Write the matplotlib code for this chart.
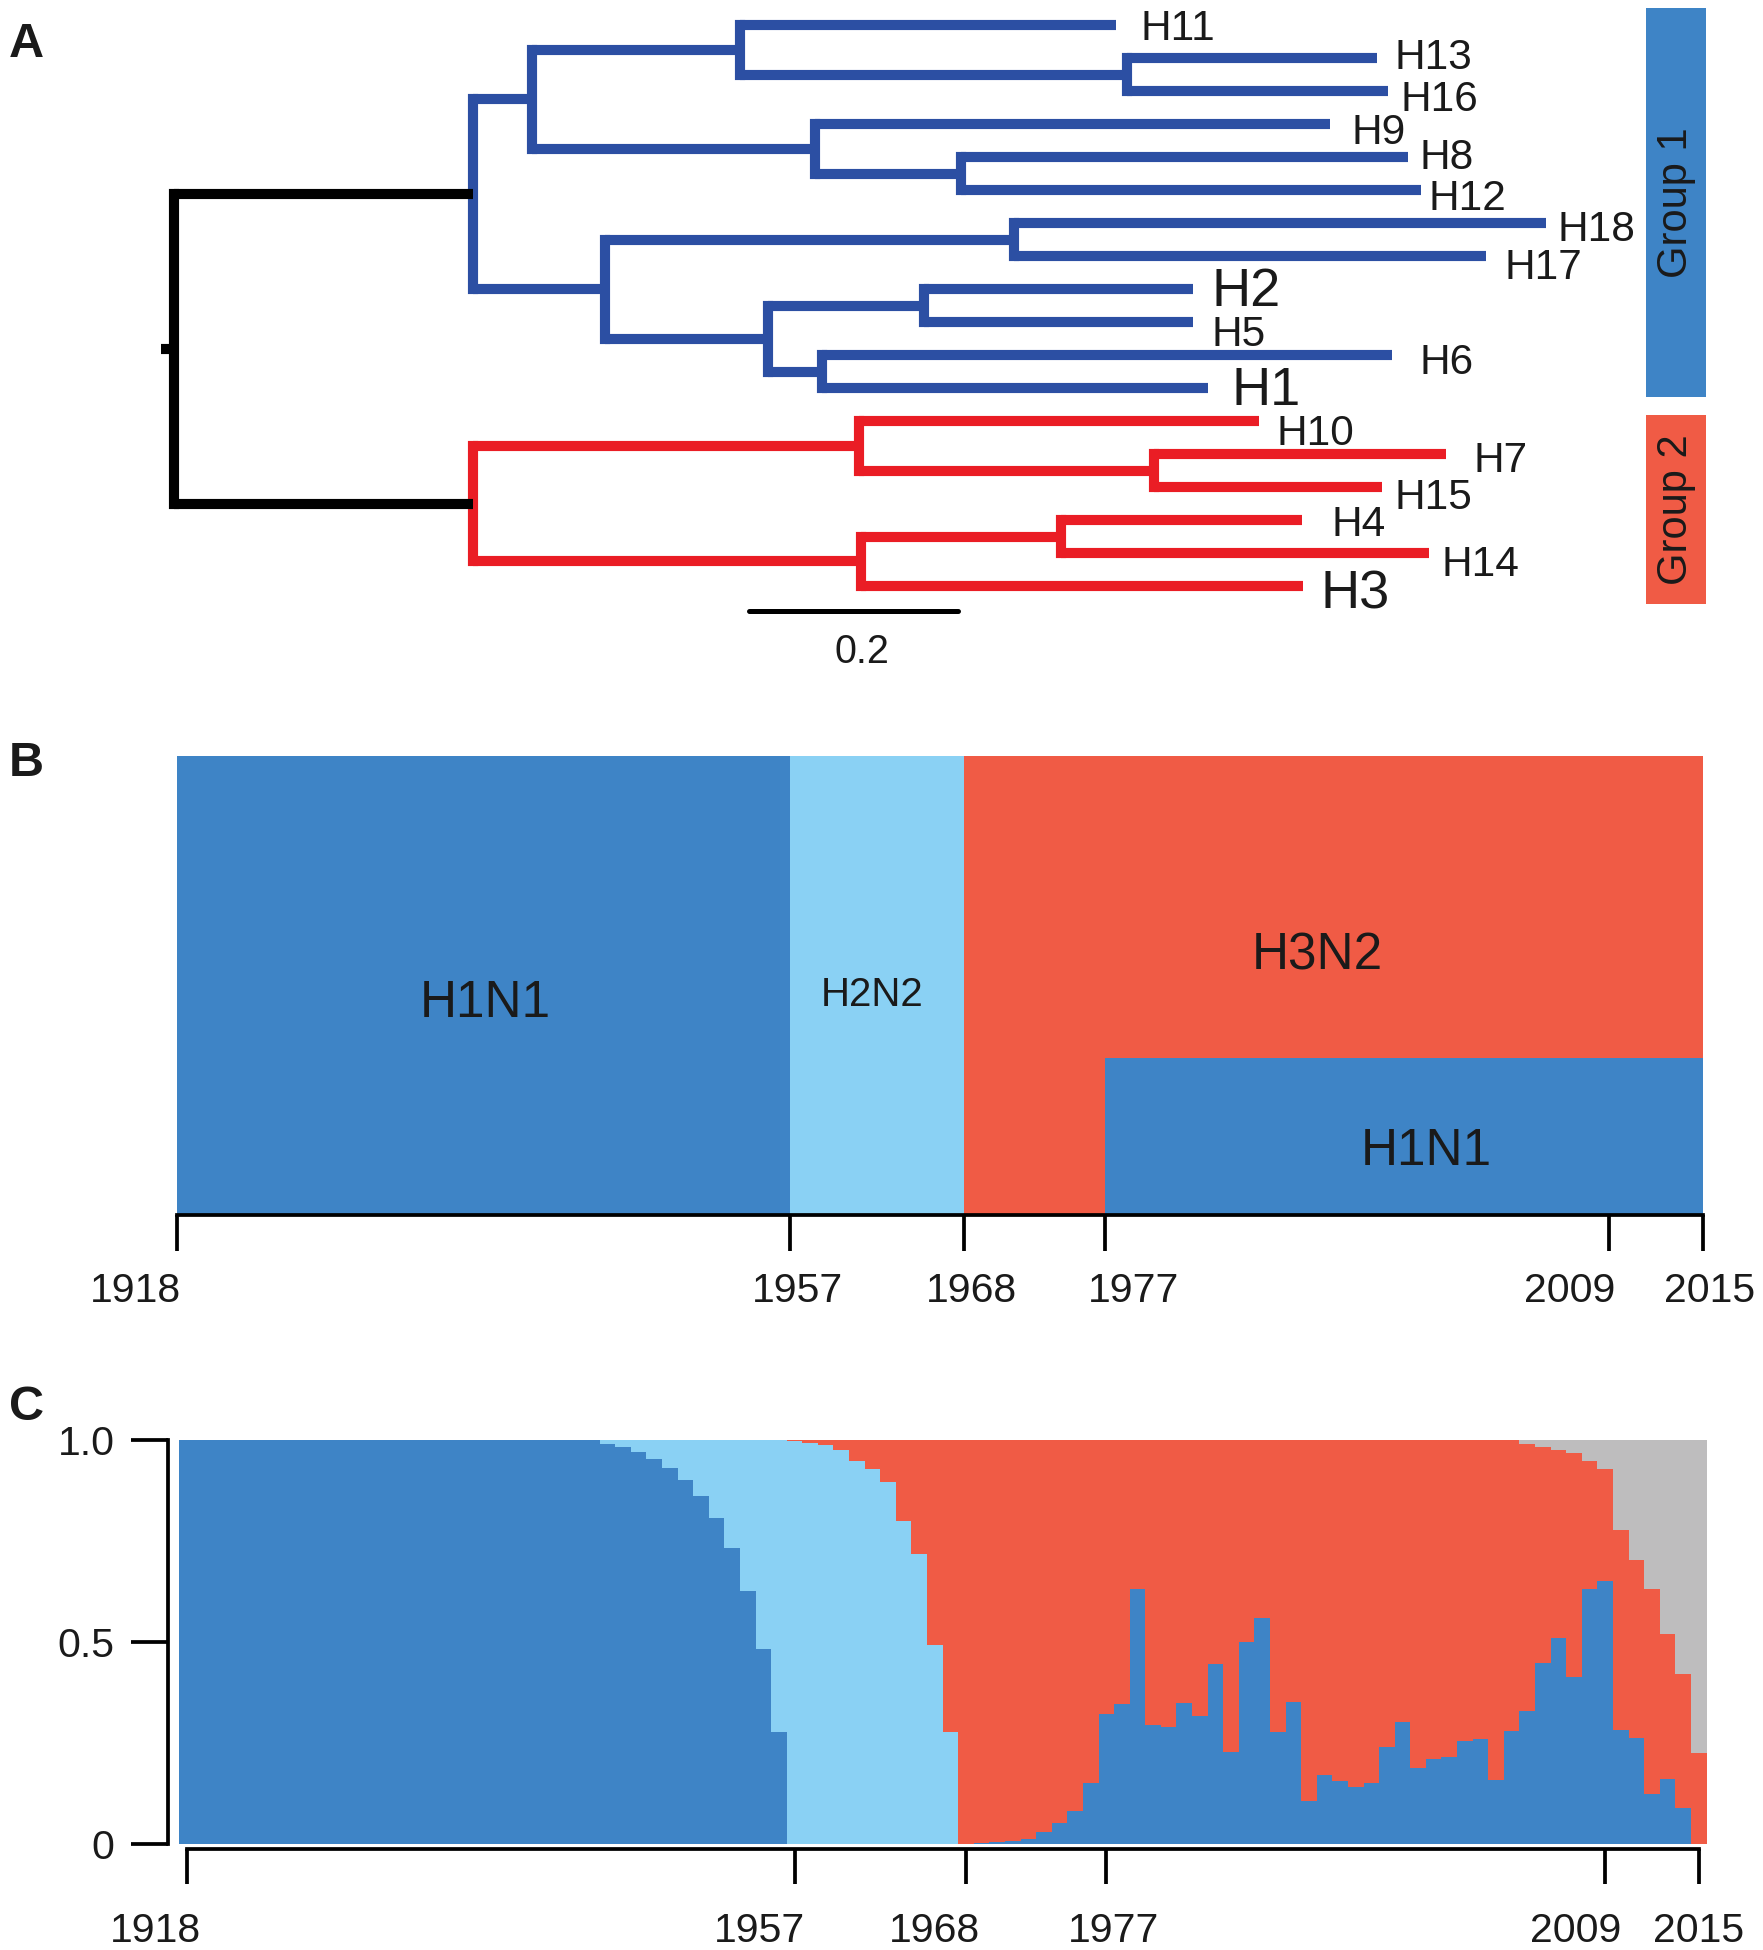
import numpy as np
import matplotlib
matplotlib.use("Agg")
import matplotlib.pyplot as plt
from matplotlib.patches import Rectangle
from matplotlib.transforms import blended_transform_factory

plt.rcParams['font.family'] = ['Liberation Sans', 'DejaVu Sans']

# ---------------- data ----------------
# A: HA subtype tree, depths in substitutions/site from the root
tip_names = ['H11', 'H13', 'H16', 'H9', 'H8', 'H12', 'H18', 'H17', 'H2',
             'H5', 'H6', 'H1', 'H10', 'H7', 'H15', 'H4', 'H14', 'H3']
tip_depth = [0.902, 1.152, 1.163, 1.107, 1.182, 1.194, 1.314, 1.257, 0.976,
             0.976, 1.167, 0.990, 1.039, 1.218, 1.157, 1.080, 1.202, 1.081]
# internal nodes (children listed before their parents)
node_names = ['n13', 'n11', 'n8', 'n9', 'nA', 'n18', 'n2', 'n1', 'nD', 'nC', 'G1',
              'n7', 'n10', 'n4', 'n3', 'G2', 'root']
node_children = [['H13', 'H16'], ['H11', 'n13'], ['H8', 'H12'], ['H9', 'n8'],
                 ['n11', 'n9'], ['H18', 'H17'], ['H2', 'H5'], ['H6', 'H1'],
                 ['n2', 'n1'], ['n18', 'nD'], ['nA', 'nC'],
                 ['H7', 'H15'], ['H10', 'n7'], ['H4', 'H14'], ['n4', 'H3'],
                 ['n10', 'n3'], ['G1', 'G2']]
node_depth = [0.913, 0.542, 0.754, 0.614, 0.343, 0.805, 0.718, 0.621, 0.569, 0.413, 0.286,
              0.939, 0.656, 0.850, 0.658, 0.286, 0.0]
human_tips = ['H1', 'H2', 'H3']
group_names = ['Group 1', 'Group 2']
group_root = ['G1', 'G2']
group_first = ['H11', 'H10']
group_last = ['H1', 'H3']
scale_bar = 0.2

# B: circulating subtypes
b_subtype = ['H1N1', 'H2N2', 'H3N2', 'H1N1']
b_start = [1918, 1957, 1968, 1977]
b_end = [1957, 1968, 2015, 2015]
b_share = [1.0, 1.0, 1.0, 0.34]
year_ticks = [1918, 1957, 1968, 1977, 2009, 2015]

# C: yearly share of each subtype
years = list(range(1918, 2016))
h1n1 = [1.0, 1.0, 1.0, 1.0, 1.0, 1.0, 1.0, 1.0, 1.0, 1.0,
        1.0, 1.0, 1.0, 1.0, 1.0, 1.0, 1.0, 1.0, 1.0, 1.0,
        1.0, 1.0, 1.0, 1.0, 1.0, 1.0, 1.0, 0.991, 0.983, 0.971,
        0.952, 0.931, 0.902, 0.862, 0.807, 0.733, 0.627, 0.483, 0.278, 0.0,
        0.0, 0.0, 0.0, 0.0, 0.0, 0.0, 0.0, 0.0, 0.0, 0.0,
        0.0, 0.002, 0.004, 0.008, 0.013, 0.029, 0.053, 0.082, 0.150, 0.323,
        0.346, 0.631, 0.295, 0.289, 0.348, 0.318, 0.445, 0.228, 0.500, 0.559,
        0.276, 0.352, 0.106, 0.170, 0.157, 0.141, 0.152, 0.239, 0.303, 0.188,
        0.211, 0.215, 0.256, 0.260, 0.158, 0.280, 0.330, 0.448, 0.510, 0.414,
        0.631, 0.651, 0.283, 0.262, 0.125, 0.161, 0.088, 0.0]
h2n2 = [0.0, 0.0, 0.0, 0.0, 0.0, 0.0, 0.0, 0.0, 0.0, 0.0,
        0.0, 0.0, 0.0, 0.0, 0.0, 0.0, 0.0, 0.0, 0.0, 0.0,
        0.0, 0.0, 0.0, 0.0, 0.0, 0.0, 0.0, 0.009, 0.017, 0.029,
        0.048, 0.069, 0.098, 0.138, 0.193, 0.267, 0.373, 0.517, 0.722, 0.998,
        0.993, 0.987, 0.975, 0.948, 0.929, 0.897, 0.799, 0.719, 0.493, 0.278,
        0.0, 0.0, 0.0, 0.0, 0.0, 0.0, 0.0, 0.0, 0.0, 0.0,
        0.0, 0.0, 0.0, 0.0, 0.0, 0.0, 0.0, 0.0, 0.0, 0.0,
        0.0, 0.0, 0.0, 0.0, 0.0, 0.0, 0.0, 0.0, 0.0, 0.0,
        0.0, 0.0, 0.0, 0.0, 0.0, 0.0, 0.0, 0.0, 0.0, 0.0,
        0.0, 0.0, 0.0, 0.0, 0.0, 0.0, 0.0, 0.0]
h3n2 = [0.0, 0.0, 0.0, 0.0, 0.0, 0.0, 0.0, 0.0, 0.0, 0.0,
        0.0, 0.0, 0.0, 0.0, 0.0, 0.0, 0.0, 0.0, 0.0, 0.0,
        0.0, 0.0, 0.0, 0.0, 0.0, 0.0, 0.0, 0.0, 0.0, 0.0,
        0.0, 0.0, 0.0, 0.0, 0.0, 0.0, 0.0, 0.0, 0.0, 0.002,
        0.007, 0.013, 0.025, 0.052, 0.071, 0.103, 0.201, 0.281, 0.507, 0.722,
        1.0, 0.998, 0.996, 0.992, 0.987, 0.971, 0.947, 0.918, 0.850, 0.677,
        0.654, 0.369, 0.705, 0.711, 0.652, 0.682, 0.555, 0.772, 0.500, 0.441,
        0.724, 0.648, 0.894, 0.830, 0.843, 0.859, 0.848, 0.761, 0.697, 0.812,
        0.789, 0.785, 0.744, 0.740, 0.842, 0.720, 0.659, 0.535, 0.465, 0.555,
        0.317, 0.278, 0.493, 0.442, 0.507, 0.359, 0.334, 0.225]
other = [0.0, 0.0, 0.0, 0.0, 0.0, 0.0, 0.0, 0.0, 0.0, 0.0,
         0.0, 0.0, 0.0, 0.0, 0.0, 0.0, 0.0, 0.0, 0.0, 0.0,
         0.0, 0.0, 0.0, 0.0, 0.0, 0.0, 0.0, 0.0, 0.0, 0.0,
         0.0, 0.0, 0.0, 0.0, 0.0, 0.0, 0.0, 0.0, 0.0, 0.0,
         0.0, 0.0, 0.0, 0.0, 0.0, 0.0, 0.0, 0.0, 0.0, 0.0,
         0.0, 0.0, 0.0, 0.0, 0.0, 0.0, 0.0, 0.0, 0.0, 0.0,
         0.0, 0.0, 0.0, 0.0, 0.0, 0.0, 0.0, 0.0, 0.0, 0.0,
         0.0, 0.0, 0.0, 0.0, 0.0, 0.0, 0.0, 0.0, 0.0, 0.0,
         0.0, 0.0, 0.0, 0.0, 0.0, 0.0, 0.011, 0.017, 0.025, 0.031,
         0.052, 0.071, 0.224, 0.296, 0.368, 0.480, 0.578, 0.775]

# ---------------- style ----------------
TREE_BLUE = '#2C4FA3'
TREE_RED = '#EA1D25'
BLUE = '#3E84C6'
LBLUE = '#8AD1F4'
RED = '#F05B45'
GRAY = '#BEBDBE'
TEXT = '#1a1a1a'
subtype_col = {'H1N1': BLUE, 'H2N2': LBLUE, 'H3N2': RED}

# small hand nudges of the tip labels (tree units, tip units)
label_dx = [0.024, 0.017, 0.012, 0.021, 0.011, 0.008, 0.011, 0.017, 0.018,
            0.018, 0.026, 0.023, 0.017, 0.027, 0.012, 0.029, 0.012, 0.017]
label_dy = [0.0, -0.15, 0.15, 0.15, -0.11, 0.15, 0.08, 0.23, -0.08,
            0.26, 0.11, -0.08, 0.26, 0.08, 0.19, 0.0, 0.23, 0.08]
b_label_xy = [(1937.6, 0.472), (1962.2, 0.487), (1990.5, 0.574), (1997.4, 0.148)]
b_label_fs = [37, 29, 37, 37]
b_tick_dx = [-29.5, 5.4, 5.4, 20.6, -28.6, 4.5]
c_tick_dx = [-22.4, -25.1, -22.4, 5.4, -21.5, 0.0]

W, H = 1763, 1950
fig = plt.figure(figsize=(W / 100, H / 100), dpi=100)


def px_axes(left, top, right, bottom):
    return fig.add_axes([left / W, 1 - bottom / H, (right - left) / W, (bottom - top) / H])


# ---------------- A: tree ----------------
axA = px_axes(0, 0, W, 680)
root_px, unit_px, tip0_px, step_px = 174, 1044, 25, 33
axA.set_xlim(-root_px / unit_px, (W - root_px) / unit_px)
axA.set_ylim((680 - tip0_px) / step_px, -tip0_px / step_px)
axA.axis('off')

children = dict(zip(node_names, node_children))
depth = dict(zip(tip_names, tip_depth))
depth.update(zip(node_names, node_depth))
ypos = {n: i for i, n in enumerate(tip_names)}
for n, kids in zip(node_names, node_children):
    ypos[n] = (ypos[kids[0]] + ypos[kids[-1]]) / 2

colour = {}


def paint(n, c):
    colour[n] = c
    for k in children.get(n, []):
        paint(k, c)


paint('root', 'black')
for g, c in zip(group_root, [TREE_BLUE, TREE_RED]):
    paint(g, c)

LW = 7.3
for n in node_names:
    kids = children[n]
    for k in kids:
        axA.plot([depth[n], depth[k]], [ypos[k], ypos[k]], color=colour[n], lw=LW,
                 solid_capstyle='butt')
    axA.plot([depth[n], depth[n]], [ypos[kids[0]], ypos[kids[-1]]], color=colour[n],
             lw=LW, solid_capstyle='projecting')
axA.plot([-0.012, 0], [ypos['root'], ypos['root']], color='black', lw=LW, solid_capstyle='butt')

for i, n in enumerate(tip_names):
    fs = 39 if n in human_tips else 30.5
    axA.text(depth[n] + label_dx[i], i + label_dy[i], n, fontsize=fs, ha='left',
             va='center_baseline', color=TEXT)

gx0, gx1 = 1.4095, 1.4679
pad_top = [0.53, 0.19]
pad_bot = [0.28, 0.56]
for gi, name in enumerate(group_names):
    y0 = tip_names.index(group_first[gi]) - pad_top[gi]
    y1 = tip_names.index(group_last[gi]) + pad_bot[gi]
    axA.add_patch(Rectangle((gx0, y0), gx1 - gx0, y1 - y0, color=[BLUE, RED][gi], lw=0))
    axA.text((gx0 + gx1) / 2, (y0 + y1) / 2, name, rotation=90, ha='center', va='center',
             fontsize=30, color=TEXT)

sb_x, sb_y = 0.551, 17.77
axA.plot([sb_x, sb_x + scale_bar], [sb_y, sb_y], color='black', lw=3.6, solid_capstyle='round')
axA.text(sb_x + scale_bar / 2 + 0.008, 18.87, f'{scale_bar:g}', ha='center',
         va='center_baseline', fontsize=28.5, color=TEXT)

# ---------------- B: subtype periods ----------------
axB = px_axes(145.1, 756, 1742.7, 1213.7)
axB.set_xlim(1916, 2017.5)
axB.set_ylim(0, 1)
axB.bar(b_start, b_share, width=np.subtract(b_end, b_start), bottom=0, align='edge',
        color=[subtype_col[s] for s in b_subtype], linewidth=0)
for (x, y), s, fs in zip(b_label_xy, b_subtype, b_label_fs):
    axB.text(x, y, s, ha='center', va='center_baseline', fontsize=fs, color=TEXT)

for sp in ['top', 'right', 'left']:
    axB.spines[sp].set_visible(False)
axB.spines['bottom'].set_bounds(year_ticks[0], year_ticks[-1])
axB.spines['bottom'].set_position(('outward', 1))
axB.spines['bottom'].set_linewidth(2.7)
axB.set_yticks([])
axB.set_xticks(year_ticks)
axB.tick_params(axis='x', length=26, width=2.7, labelbottom=False)
trB = blended_transform_factory(axB.transData, axB.transAxes)
for yr, dx in zip(year_ticks, b_tick_dx):
    axB.annotate(str(yr), xy=(yr, 0), xycoords=trB, xytext=(dx, -52.8),
                 textcoords='offset points', ha='center', va='center_baseline',
                 fontsize=29.5, color=TEXT)

# ---------------- C: yearly proportions ----------------
axC = px_axes(168, 1440, 1737.7, 1844)
axC.set_xlim(1916.813, 2017.5)
axC.set_ylim(0, 1)
bottom = np.zeros(len(years))
for vals, col in [(h1n1, BLUE), (h2n2, LBLUE), (h3n2, RED), (other, GRAY)]:
    axC.bar(years, vals, width=1.0, bottom=bottom, color=col, linewidth=0)
    bottom = bottom + np.array(vals)

for sp in ['top', 'right']:
    axC.spines[sp].set_visible(False)
axC.spines['left'].set_bounds(0, 1)
axC.spines['left'].set_linewidth(2.7)
axC.spines['bottom'].set_bounds(year_ticks[0], year_ticks[-1])
axC.spines['bottom'].set_position(('outward', 3.6))
axC.spines['bottom'].set_linewidth(2.7)
axC.set_yticks([0, 0.5, 1.0])
axC.set_yticklabels(['0', '0.5', '1.0'])
axC.tick_params(axis='y', length=27, width=2.7, pad=11.5, labelsize=29.5, labelcolor=TEXT)
axC.set_xticks(year_ticks)
axC.tick_params(axis='x', length=25, width=2.7, labelbottom=False)
trC = blended_transform_factory(axC.transData, axC.transAxes)
for yr, dx in zip(year_ticks, c_tick_dx):
    axC.annotate(str(yr), xy=(yr, 0), xycoords=trC, xytext=(dx, -59.8),
                 textcoords='offset points', ha='center', va='center_baseline',
                 fontsize=29.5, color=TEXT)

# panel letters
for letter, base in [('A', 57), ('B', 776), ('C', 1420)]:
    fig.text(9 / W, 1 - base / H, letter, fontsize=35, fontweight='bold',
             ha='left', va='baseline', color=TEXT)

fig.savefig('out.png', dpi=100)
